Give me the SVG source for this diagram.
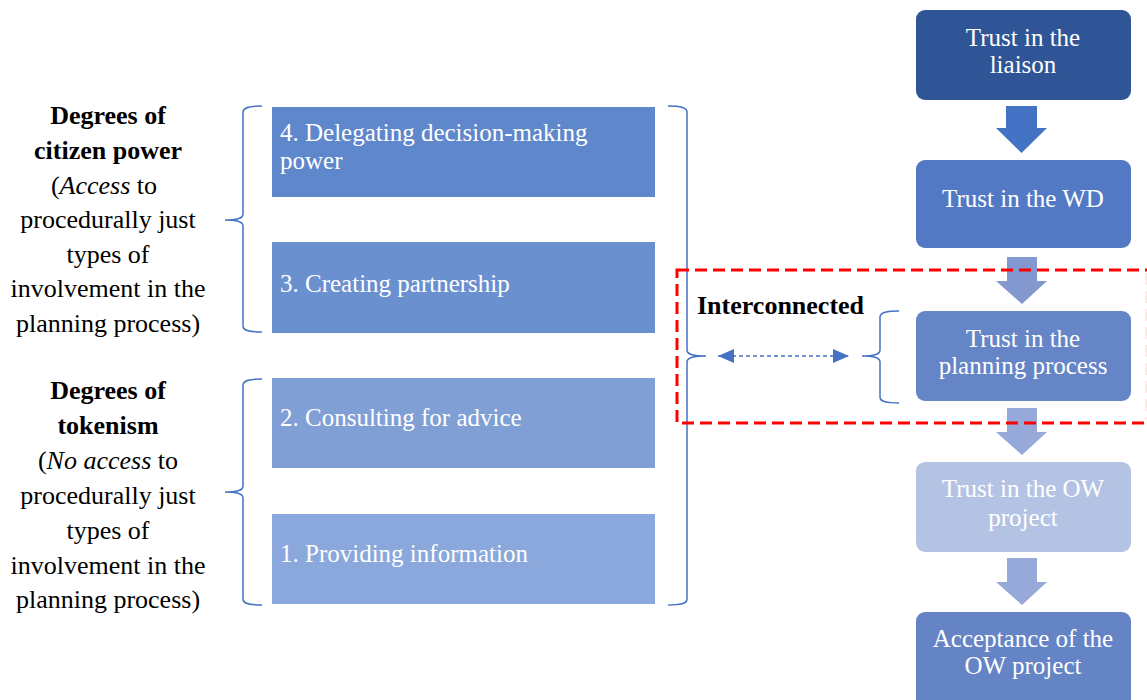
<svg xmlns="http://www.w3.org/2000/svg" width="1147" height="700" viewBox="0 0 1147 700" font-family="'Liberation Serif', 'Times New Roman', serif">
  <style>
    text { font-family: "Liberation Serif", "Times New Roman", serif; font-size: 26px; }
    .lbl { fill: #000; text-anchor: middle; }
    .bold { font-weight: bold; }
    .step { fill: #fff; font-size: 25px; }
    .flow { fill: #fff; font-size: 25px; text-anchor: middle; }
    .brace { fill: none; stroke: #4472c4; stroke-width: 1.5; }
  </style>
  <defs>
    <marker id="tri" viewBox="0 0 16 14" refX="16" refY="7" markerWidth="16" markerHeight="14" markerUnits="userSpaceOnUse" orient="auto-start-reverse">
      <path d="M0,0 L16,7 L0,14 Z" fill="#4472c4"/>
    </marker>
  </defs>

  <rect width="1147" height="700" fill="#fff"/>

  <!-- Side labels -->
  <g id="label-citizen-power">
    <text class="lbl bold" x="108" y="124">Degrees of</text>
    <text class="lbl bold" x="108" y="159">citizen power</text>
    <text class="lbl" x="104" y="194">(<tspan font-style="italic">Access</tspan> to</text>
    <text class="lbl" x="108" y="228">procedurally just</text>
    <text class="lbl" x="108" y="263">types of</text>
    <text class="lbl" x="108" y="297">involvement in the</text>
    <text class="lbl" x="108" y="332">planning process)</text>
  </g>
  <g id="label-tokenism">
    <text class="lbl bold" x="108" y="399">Degrees of</text>
    <text class="lbl bold" x="108" y="434">tokenism</text>
    <text class="lbl" x="108" y="469">(<tspan font-style="italic">No access</tspan> to</text>
    <text class="lbl" x="108" y="504">procedurally just</text>
    <text class="lbl" x="108" y="539">types of</text>
    <text class="lbl" x="108" y="574">involvement in the</text>
    <text class="lbl" x="108" y="608">planning process)</text>
  </g>

  <!-- Participation steps -->
  <g id="step-4">
    <rect x="272" y="107" width="383" height="90" fill="#5f87cb"/>
    <text class="step" x="280" y="141">4. Delegating decision-making</text>
    <text class="step" x="280" y="169">power</text>
  </g>
  <g id="step-3">
    <rect x="272" y="242" width="383" height="91" fill="#6b90d0"/>
    <text class="step" x="280" y="292">3. Creating partnership</text>
  </g>
  <g id="step-2">
    <rect x="272" y="378" width="383" height="90" fill="#7f9fd5"/>
    <text class="step" x="280" y="426">2. Consulting for advice</text>
  </g>
  <g id="step-1">
    <rect x="272" y="514" width="383" height="90" fill="#8aa8db"/>
    <text class="step" x="280" y="562">1. Providing information</text>
  </g>

  <!-- Trust chain -->
  <g id="trust-liaison">
    <rect x="916" y="10" width="215" height="90" rx="9" fill="#2f5597"/>
    <text class="flow" x="1023" y="46">Trust in the</text>
    <text class="flow" x="1023" y="73">liaison</text>
  </g>
  <g id="trust-wd">
    <rect x="916" y="160" width="215" height="88" rx="9" fill="#5479c4"/>
    <text class="flow" x="1023" y="207">Trust in the WD</text>
  </g>
  <g id="trust-planning">
    <rect x="916" y="311" width="215" height="90" rx="9" fill="#6585c6"/>
    <text class="flow" x="1023" y="347">Trust in the</text>
    <text class="flow" x="1023" y="374">planning process</text>
  </g>
  <g id="trust-ow">
    <rect x="916" y="462" width="215" height="90" rx="9" fill="#b4c3e3"/>
    <text class="flow" x="1023" y="497">Trust in the OW</text>
    <text class="flow" x="1023" y="526">project</text>
  </g>
  <g id="acceptance-ow">
    <rect x="916" y="612" width="215" height="96" rx="9" fill="#6584c6"/>
    <text class="flow" x="1023" y="647">Acceptance of the</text>
    <text class="flow" x="1023" y="674">OW project</text>
  </g>

  <!-- Connectors -->
  <g id="connectors">
    <!-- block arrows down the trust chain -->
    <path d="M1006,106 H1037 V128 H1047 L1021.5,153 L996,128 H1006 Z" fill="#4472c4"/>
    <path d="M1007,257 H1037 V281 H1047 L1022,304 L996,281 H1007 Z" fill="#8498d0"/>
    <path d="M1007,408 H1037 V432 H1047 L1022,455 L996,432 H1007 Z" fill="#97a9d8"/>
    <path d="M1007,558 H1037 V582 H1047 L1022,605 L996,582 H1007 Z" fill="#97a9d8"/>

    <!-- braces -->
    <path class="brace" d="M262,106 C250,106 243,107 243,112 V214 C243,219 236,220 225,220 C236,220 243,221 243,226 V326 C243,331 250,332 262,332"/>
    <path class="brace" d="M262,379 C250,379 243,380 243,385 V486 C243,491 236,492 225,492 C236,492 243,493 243,498 V599 C243,604 250,605 262,605"/>
    <path class="brace" d="M668,106 C680,106 687,107 687,112 V350 C687,355 694,356 706,356 C694,356 687,357 687,362 V599 C687,604 680,605 668,605"/>
    <path class="brace" d="M899,311 C887,311 880,312 880,317 V350 C880,355 873,356 862,356 C873,356 880,357 880,362 V397 C880,402 887,403 899,403"/>

    <!-- two-way dashed link -->
    <line x1="718" y1="356" x2="849" y2="356" stroke="#4472c4" stroke-width="1.5" stroke-dasharray="4,3" marker-start="url(#tri)" marker-end="url(#tri)"/>
  </g>

  <!-- Highlight frame; its right edge runs just past the page -->
  <g id="interconnected">
    <rect x="677" y="270" width="472" height="153" fill="none" stroke="#ff0000" stroke-width="3" stroke-dasharray="12,6"/>
    <line x1="1146" y1="273" x2="1146" y2="420" stroke="#ffd0d0" stroke-width="1" stroke-dasharray="12,6"/>
    <text class="bold" x="697" y="314" fill="#000">Interconnected</text>
  </g>
</svg>
